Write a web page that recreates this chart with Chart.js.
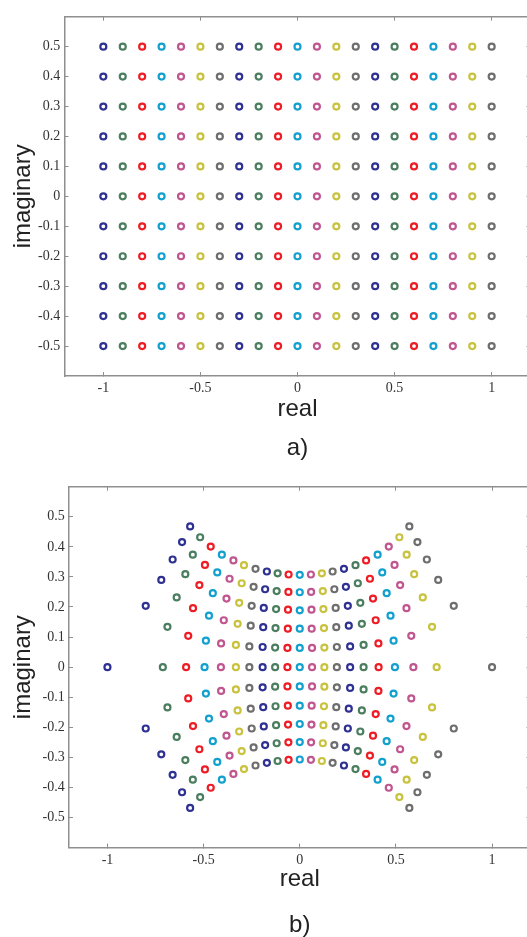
<!DOCTYPE html>
<html>
<head>
<meta charset="utf-8">
<title>Points in the complex plane</title>
<script src="https://cdn.jsdelivr.net/npm/chart.js@4/dist/chart.umd.min.js"></script>
<style>
    html, body { margin: 0; padding: 0; background: #fff; overflow: hidden; }
    body { width: 527px; height: 937px; position: relative; }
    canvas { position: absolute; left: 0; }
    #chart-a { top: 0; }
    #chart-b { top: 470px; }
</style>
</head>
<body>
<canvas id="chart-a" width="545" height="470"></canvas>
<canvas id="chart-b" width="545" height="470"></canvas>
<script>
// Tick labels
const X_TICKS = [-1, -0.5, 0, 0.5, 1];
const Y_TICKS = [-0.5, -0.4, -0.3, -0.2, -0.1, 0, 0.1, 0.2, 0.3, 0.4, 0.5];

// a) grid of input points: columns (real) and rows (imaginary)
const realA = [-1, -0.9, -0.8, -0.7, -0.6, -0.5, -0.4, -0.3, -0.2, -0.1, 0,
    0.1, 0.2, 0.3, 0.4, 0.5, 0.6, 0.7, 0.8, 0.9, 1];
const imagA = [0.5, 0.4, 0.3, 0.2, 0.1, 0, -0.1, -0.2, -0.3, -0.4, -0.5];

// b) mapped points, one list per row (21 columns each)
const reRow0 = [-1, -0.712, -0.591, -0.495, -0.410, -0.332, -0.262, -0.193, -0.128, -0.064, 0,
    0.064, 0.128, 0.193, 0.262, 0.332, 0.410, 0.495, 0.591, 0.712, 1];
const imRow0 = [0, 0, 0, 0, 0, 0, 0, 0, 0, 0, 0, 0, 0, 0, 0, 0, 0, 0, 0, 0, 0];

const reRow1 = [-0.801, -0.688, -0.580, -0.488, -0.409, -0.332, -0.262, -0.193, -0.128, -0.064, 0,
    0.064, 0.128, 0.193, 0.262, 0.332, 0.409, 0.488, 0.580, 0.688, 0.801];
const imRowP1 = [0.204, 0.134, 0.104, 0.088, 0.079, 0.074, 0.069, 0.067, 0.065, 0.064, 0.064,
    0.064, 0.065, 0.067, 0.069, 0.074, 0.079, 0.088, 0.104, 0.134, 0.204];
const imRowM1 = [-0.204, -0.134, -0.104, -0.088, -0.079, -0.074, -0.069, -0.067, -0.065, -0.064, -0.064,
    -0.064, -0.065, -0.067, -0.069, -0.074, -0.079, -0.088, -0.104, -0.134, -0.204];

const reRow2 = [-0.720, -0.640, -0.555, -0.472, -0.395, -0.323, -0.255, -0.190, -0.126, -0.062, 0,
    0.062, 0.126, 0.190, 0.255, 0.323, 0.395, 0.472, 0.555, 0.640, 0.720];
const imRowP2 = [0.290, 0.232, 0.196, 0.171, 0.156, 0.144, 0.138, 0.133, 0.130, 0.128, 0.128,
    0.128, 0.130, 0.133, 0.138, 0.144, 0.156, 0.171, 0.196, 0.232, 0.290];
const imRowM2 = [-0.290, -0.232, -0.196, -0.171, -0.156, -0.144, -0.138, -0.133, -0.130, -0.128, -0.128,
    -0.128, -0.130, -0.133, -0.138, -0.144, -0.156, -0.171, -0.196, -0.232, -0.290];

const reRow3 = [-0.661, -0.595, -0.522, -0.452, -0.381, -0.315, -0.250, -0.187, -0.123, -0.061, 0,
    0.061, 0.123, 0.187, 0.250, 0.315, 0.381, 0.452, 0.522, 0.595, 0.661];
const imRowP3 = [0.358, 0.309, 0.273, 0.246, 0.228, 0.214, 0.204, 0.197, 0.193, 0.191, 0.189,
    0.191, 0.193, 0.197, 0.204, 0.214, 0.228, 0.246, 0.273, 0.309, 0.358];
const imRowM3 = [-0.358, -0.309, -0.273, -0.246, -0.228, -0.214, -0.204, -0.197, -0.193, -0.191, -0.189,
    -0.191, -0.193, -0.197, -0.204, -0.214, -0.228, -0.246, -0.273, -0.309, -0.358];

const reRow4 = [-0.612, -0.556, -0.493, -0.429, -0.365, -0.302, -0.240, -0.180, -0.120, -0.059, 0,
    0.059, 0.120, 0.180, 0.240, 0.302, 0.365, 0.429, 0.493, 0.556, 0.612];
const imRowP4 = [0.416, 0.374, 0.340, 0.315, 0.294, 0.279, 0.267, 0.259, 0.253, 0.250, 0.249,
    0.250, 0.253, 0.259, 0.267, 0.279, 0.294, 0.315, 0.340, 0.374, 0.416];
const imRowM4 = [-0.416, -0.374, -0.340, -0.315, -0.294, -0.279, -0.267, -0.259, -0.253, -0.250, -0.249,
    -0.250, -0.253, -0.259, -0.267, -0.279, -0.294, -0.315, -0.340, -0.374, -0.416];

const reRow5 = [-0.570, -0.518, -0.463, -0.405, -0.345, -0.290, -0.230, -0.171, -0.115, -0.058, 0,
    0.058, 0.115, 0.171, 0.230, 0.290, 0.345, 0.405, 0.463, 0.518, 0.570];
const imRowP5 = [0.468, 0.432, 0.401, 0.374, 0.355, 0.339, 0.327, 0.318, 0.312, 0.308, 0.307,
    0.308, 0.312, 0.318, 0.327, 0.339, 0.355, 0.374, 0.401, 0.432, 0.468];
const imRowM5 = [-0.468, -0.432, -0.401, -0.374, -0.355, -0.339, -0.327, -0.318, -0.312, -0.308, -0.307,
    -0.308, -0.312, -0.318, -0.327, -0.339, -0.355, -0.374, -0.401, -0.432, -0.468];

// Farben (wie MATLAB-Reihenfolge), zyklisch pro Spalte
const COLORS = ['#2e3192', '#4b7d5f', '#ee1c25', '#12a0cf', '#c0558f', '#c9c23f', '#6e6e6e'];

const AXIS_GRAY = '#8f8f8f';
const TICK_FONT = { family: '"Liberation Serif", "Times New Roman", serif', size: 14 };
const LABEL_FONT = { family: '"Liberation Sans", Arial, sans-serif', size: 24, weight: 'normal', lineHeight: 1.2 };

/**
 * Build one scatter dataset per column
 */
function buildDatasets(rowsRe, rowsIm) {
    const datasets = [];
    for (let j = 0; j < rowsRe[0].length; j++) {
        const color = COLORS[j % COLORS.length];
        datasets.push({
            data: rowsRe.map((re, k) => ({ x: re[j], y: rowsIm[k][j] })),
            pointStyle: 'circle',
            pointRadius: 3,
            pointHoverRadius: 3,
            pointBorderWidth: 2.2,
            borderColor: color,
            backgroundColor: '#fff'
        });
    }
    return datasets;
}

/**
 * Scatter chart in the style of a MATLAB figure
 * box: fixed sizes of the plot frame inside the canvas
 */
function makeChart(canvasId, datasets, caption, box) {
    const setTicks = (list) => (scale) => {
        scale.ticks = list.map(v => ({ value: v }));
    };
    const grid = {
        drawOnChartArea: false,
        tickLength: -4,
        color: AXIS_GRAY,
        lineWidth: 1
    };
    const border = { color: AXIS_GRAY, width: 1.5 };

    return new Chart(document.getElementById(canvasId), {
        type: 'scatter',
        data: { datasets: datasets },
        options: {
            responsive: false,
            animation: false,
            events: [],
            layout: { padding: 0 },
            plugins: {
                legend: { display: false },
                tooltip: { enabled: false },
                title: {
                    display: true,
                    text: caption,
                    position: 'bottom',
                    fullSize: false,
                    color: '#222',
                    font: LABEL_FONT,
                    padding: { top: 0, bottom: box.captionPad }
                }
            },
            scales: {
                x: {
                    type: 'linear',
                    position: 'bottom',
                    min: -1.2,
                    max: 1.2,
                    afterBuildTicks: setTicks(X_TICKS),
                    afterFit: (scale) => { scale.height = box.xHeight; },
                    grid: grid,
                    border: border,
                    ticks: {
                        color: '#333',
                        font: TICK_FONT,
                        padding: 8.2,
                        maxRotation: 0,
                        callback: (v) => String(v)
                    },
                    title: {
                        display: true,
                        text: 'real',
                        color: '#222',
                        font: LABEL_FONT,
                        padding: { top: 0, bottom: box.realPad }
                    }
                },
                x2: {
                    type: 'linear',
                    position: 'top',
                    min: -1.2,
                    max: 1.2,
                    afterBuildTicks: setTicks(X_TICKS),
                    afterFit: (scale) => { scale.height = box.top; },
                    grid: grid,
                    border: border,
                    ticks: { display: false }
                },
                y: {
                    type: 'linear',
                    position: 'left',
                    min: -0.6,
                    max: 0.6,
                    afterBuildTicks: setTicks(Y_TICKS),
                    afterFit: (scale) => { scale.width = box.left; },
                    grid: grid,
                    border: border,
                    ticks: {
                        color: '#333',
                        font: TICK_FONT,
                        padding: 8.3,
                        callback: (v) => String(v)
                    },
                    title: {
                        display: true,
                        text: 'imaginary',
                        color: '#222',
                        font: LABEL_FONT,
                        padding: { top: 9, bottom: 0 }
                    }
                },
                y2: {
                    type: 'linear',
                    position: 'right',
                    min: -0.6,
                    max: 0.6,
                    afterBuildTicks: setTicks(Y_TICKS),
                    afterFit: (scale) => { scale.width = box.right; },
                    grid: grid,
                    border: border,
                    ticks: { display: false }
                }
            }
        }
    });
}

// a) Eingangspunkte
const rowsReA = imagA.map(() => realA);
const rowsImA = imagA.map(y => realA.map(() => y));
makeChart('chart-a', buildDatasets(rowsReA, rowsImA), 'a)', {
    left: 64.5, right: 14.5, top: 10.7, xHeight: 57.8, realPad: 10.2, captionPad: 7.4
});

// b) abgebildete Punkte
const rowsReB = [reRow5, reRow4, reRow3, reRow2, reRow1, reRow0, reRow1, reRow2, reRow3, reRow4, reRow5];
const rowsImB = [imRowP5, imRowP4, imRowP3, imRowP2, imRowP1, imRow0, imRowM1, imRowM2, imRowM3, imRowM4, imRowM5];
makeChart('chart-b', buildDatasets(rowsReB, rowsImB), 'b)', {
    left: 69, right: 14.5, top: 15, xHeight: 63.6, realPad: 17.6, captionPad: 0
});
</script>
</body>
</html>
